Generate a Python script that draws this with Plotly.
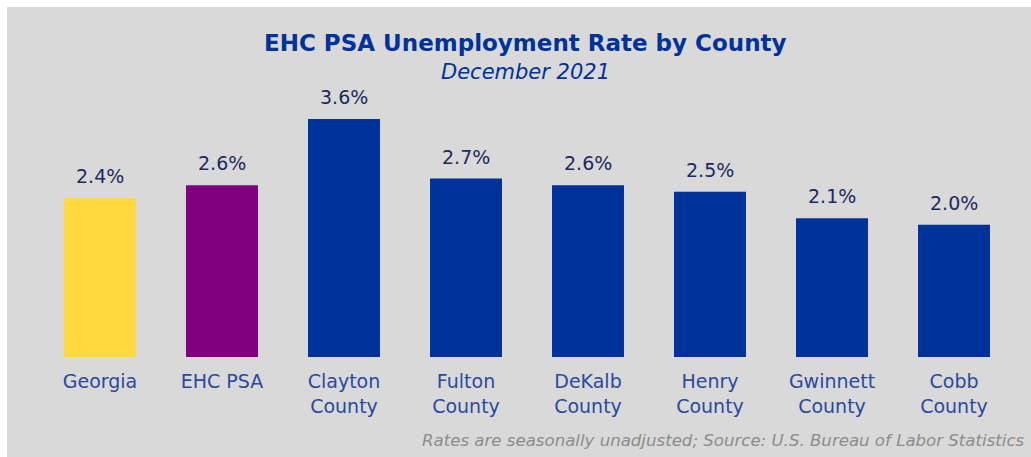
import plotly.graph_objects as go

# Unemployment rates, December 2021 (percent)
categories = ["Georgia", "EHC PSA", "Clayton<br>County", "Fulton<br>County",
              "DeKalb<br>County", "Henry<br>County", "Gwinnett<br>County", "Cobb<br>County"]
rates = [2.4, 2.6, 3.6, 2.7, 2.6, 2.5, 2.1, 2.0]
bar_colors = ["#FFD93D", "#800080", "#003399", "#003399",
              "#003399", "#003399", "#003399", "#003399"]
value_labels = [f"{v:.1f}%" for v in rates]

W, H = 1031, 457
M_L, M_R, M_T, M_B = 39, 16, 80, 100
PW, PH = W - M_L - M_R, H - M_T - M_B

FONT = "DejaVu Sans"

def px_x(px):
    return (px - M_L) / PW

def px_y(py):
    return (H - M_B - py) / PH

fig = go.Figure(
    go.Bar(
        x=categories,
        y=rates,
        marker=dict(color=bar_colors, line=dict(width=0)),
        hoverinfo="skip",
    )
)

# value labels above each bar
for cat, val, lab in zip(categories, rates, value_labels):
    fig.add_annotation(
        x=cat, y=val, text=lab, showarrow=False,
        xanchor="center", yanchor="middle", yshift=22,
        font=dict(family=FONT, size=19, color="#1B2B5E"),
    )

# grey panel behind the chart
fig.add_shape(
    type="rect", xref="paper", yref="paper", layer="below",
    x0=px_x(7), x1=px_x(W + 2), y0=px_y(H + 2), y1=px_y(7),
    fillcolor="#D9D9D9", line=dict(width=0),
)

fig.add_annotation(
    text="<b>EHC PSA Unemployment Rate by County</b>",
    xref="paper", yref="paper", x=px_x(525), y=px_y(43),
    xanchor="center", yanchor="middle", showarrow=False,
    font=dict(family=FONT, size=23, color="#003399"),
)
fig.add_annotation(
    text="<i>December 2021</i>",
    xref="paper", yref="paper", x=px_x(525), y=px_y(72),
    xanchor="center", yanchor="middle", showarrow=False,
    font=dict(family=FONT, size=21, color="#003399"),
)
fig.add_annotation(
    text="<i>Rates are seasonally unadjusted; Source: U.S. Bureau of Labor Statistics</i>",
    xref="paper", yref="paper", x=px_x(1027), y=px_y(441),
    xanchor="right", yanchor="middle", showarrow=False,
    font=dict(family=FONT, size=16.6, color="#8C8C8C"),
)

fig.update_layout(
    width=W, height=H,
    margin=dict(l=M_L, r=M_R, t=M_T, b=M_B, pad=0),
    paper_bgcolor="white",
    plot_bgcolor="rgba(0,0,0,0)",
    bargap=0.41,
    showlegend=False,
    xaxis=dict(
        showgrid=False, showline=False, zeroline=False, ticks="",
        ticklabelstandoff=11,
        tickfont=dict(family=FONT, size=19, color="#2A4A9E"),
        fixedrange=True,
    ),
    yaxis=dict(
        range=[0, PH / 66.1], visible=False, showgrid=False, zeroline=False,
        fixedrange=True,
    ),
)

fig.write_html("out.html", config={"displayModeBar": False})
